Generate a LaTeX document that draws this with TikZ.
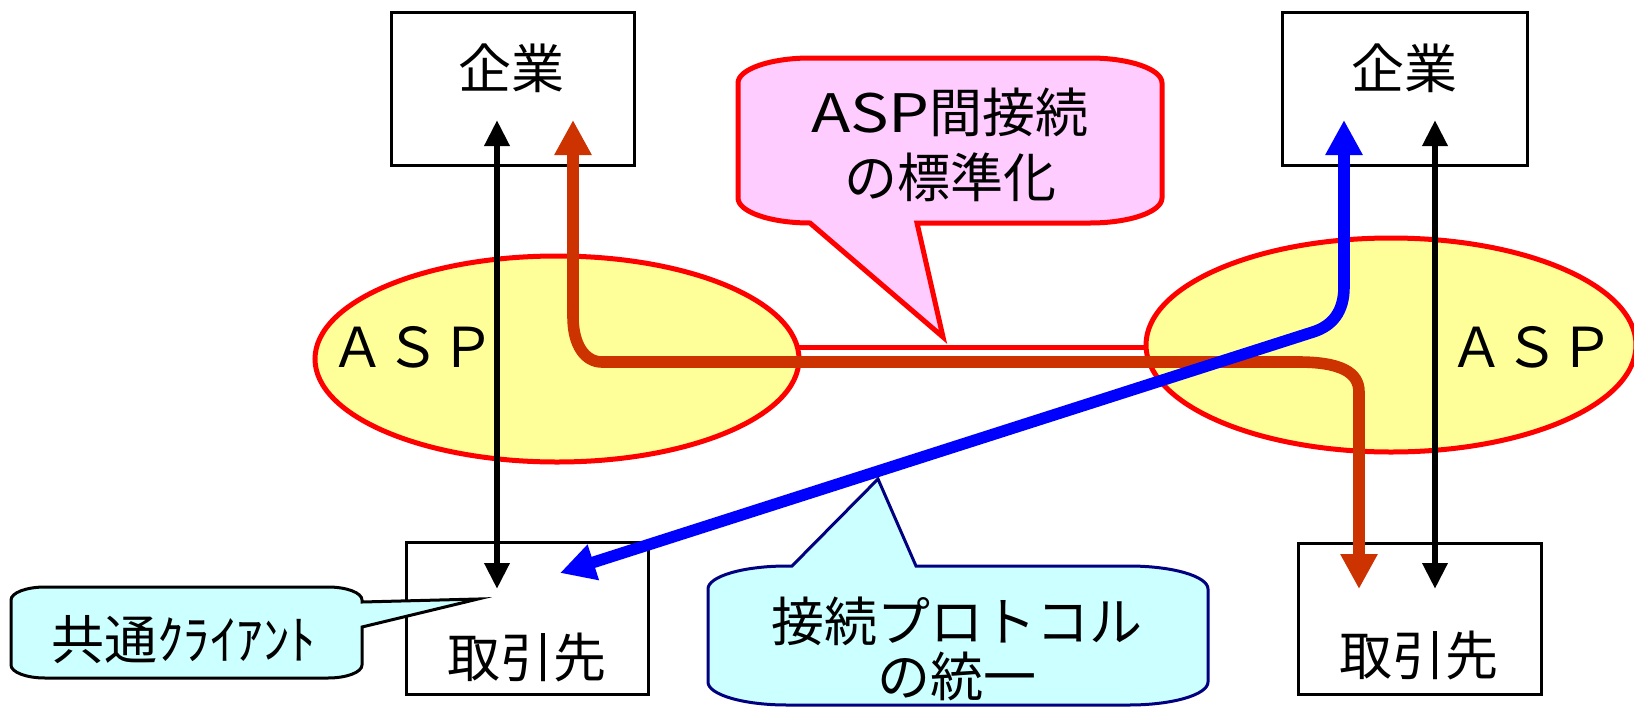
\documentclass[tikz,border=0pt]{standalone}
\usepackage{fontspec}
\setmainfont{Noto Sans CJK JP}
\usetikzlibrary{arrows.meta}
\definecolor{aspfill}{HTML}{FFFF99}
\definecolor{pinkfill}{HTML}{FFCCFF}
\definecolor{cyanfill}{HTML}{CCFFFF}
\definecolor{brownline}{HTML}{CC3300}
\definecolor{navyline}{HTML}{000080}
\definecolor{blueline}{HTML}{0000FF}
\begin{document}
\begin{tikzpicture}[x=0.5pt,y=-0.5pt,
  boxnode/.style={draw=black,line width=1.5pt,fill=white,inner sep=0pt},
  lbl/.style={inner sep=0pt,font=\fontsize{26.5pt}{32pt}\selectfont},
  aspell/.style={draw=red,line width=2.5pt,fill=aspfill},
  asplbl/.style={inner sep=0pt,font=\fontsize{27.5pt}{32pt}\selectfont},
  blackarrow/.style={line width=3.2pt,{Triangle[length=13pt,width=12pt]}-{Triangle[length=13pt,width=12pt]}},
  fatarrow/.style={line width=5.8pt,{Triangle[length=17.5pt,width=17.5pt]}-{Triangle[length=17.5pt,width=17.5pt]}},
  pinkcall/.style={draw=red,line width=2.5pt,fill=pinkfill,line join=miter},
  cyancall/.style={draw=navyline,line width=1.5pt,fill=cyanfill},
  smallcall/.style={draw=black,line width=1.5pt,fill=cyanfill},
]
\useasboundingbox (0,0) rectangle (1634,707);
\fill[white] (0,0) rectangle (1634,707);

% link between the ASPs
\draw[red,line width=2.5pt] (760,347) -- (1190,347);

% ASP ellipses
\draw[aspell] (557,359) ellipse [x radius=121pt, y radius=51.5pt];
\draw[aspell] (1391,345) ellipse [x radius=122.5pt, y radius=53.5pt];
\node[asplbl] (aspL) at (413,347) {ＡＳＰ};
\node[asplbl] (aspR) at (1532,347) {ＡＳＰ};

% boxes
\node[boxnode,minimum width=121.5pt,minimum height=76.5pt] (kigyoL) at (512.5,88.75) {};
\node[boxnode,minimum width=122.5pt,minimum height=76.5pt] (kigyoR) at (1404.5,88.75) {};
\node[boxnode,minimum width=121pt,minimum height=76pt] (torihikiL) at (527,618) {};
\node[boxnode,minimum width=121.5pt,minimum height=75.5pt] (torihikiR) at (1419.5,618.5) {};
\node[lbl] (tk1) at (511,68) {企業};
\node[lbl] (tk2) at (1404,68) {企業};
\node[lbl] (tt1) at (527,657) {取引先};
\node[lbl] (tt2) at (1419,655) {取引先};

% connector end points
\coordinate (bLtop) at (497,120);
\coordinate (bLbot) at (497,589);
\coordinate (bRtop) at (1435,120);
\coordinate (bRbot) at (1435,589);
\coordinate (brTop) at (573,120);
\coordinate (brBot) at (1359,589);
\coordinate (blTop) at (1344,120);
\coordinate (blBot) at (560,573);

% black double arrows
\draw[blackarrow] (bLtop) -- (bLbot);
\draw[blackarrow] (bRtop) -- (bRbot);

% brown path
\draw[fatarrow,draw=brownline] (brTop) -- (573,317)
  .. controls (573,345) and (585,362) .. (602,362) -- (1298,362)
  .. controls (1340,362) and (1359,372) .. (1359,392) -- (brBot);

% blue path
\draw[fatarrow,draw=blueline] (blTop) -- (1344,287)
  .. controls (1344,312) and (1332,326) .. (1313,332) -- (blBot);

% pink callout
\draw[pinkcall] (738,83) .. controls (738,69.2) and (770.3,58) .. (810,58) -- (1090,58)
  .. controls (1129.7,58) and (1162,69.2) .. (1162,83) -- (1162,198)
  .. controls (1162,211.8) and (1129.7,223) .. (1090,223) -- (917,223) -- (943,337) -- (810,223)
  .. controls (770.3,223) and (738,211.8) .. (738,198) -- cycle;
\node[lbl,align=center,font=\fontsize{26.5pt}{32.5pt}\selectfont] (pinktext) at (950,145) {\scalebox{1.22}[1]{ASP}間接続\\の標準化};

% cyan callout
\draw[cyancall] (708,589) .. controls (708,576.3) and (743.4,566) .. (787,566) -- (792,566) -- (878,479) -- (916,566) -- (1129,566)
  .. controls (1172.6,566) and (1208,576.3) .. (1208,589) -- (1208,682)
  .. controls (1208,694.7) and (1172.6,705) .. (1129,705) -- (787,705)
  .. controls (743.4,705) and (708,694.7) .. (708,682) -- cycle;
\node[lbl,align=center,font=\fontsize{26.5pt}{27.5pt}\selectfont] (cyantext) at (957,649) {接続プロトコル\\の統一};

% small callout
\draw[smallcall] (11,600) .. controls (11,592.8) and (26.2,587) .. (45,587) -- (328,587)
  .. controls (346.8,587) and (362,592.8) .. (362,600) -- (362,602) -- (478,599) -- (362,627) -- (362,665)
  .. controls (362,672.2) and (346.8,678) .. (328,678) -- (45,678)
  .. controls (26.2,678) and (11,672.2) .. (11,665) -- cycle;
\node[lbl,font=\fontsize{26.5pt}{32pt}\selectfont] (smalltext) at (184,640) {共通ｸﾗｲｱﾝﾄ};
\end{tikzpicture}
\end{document}
